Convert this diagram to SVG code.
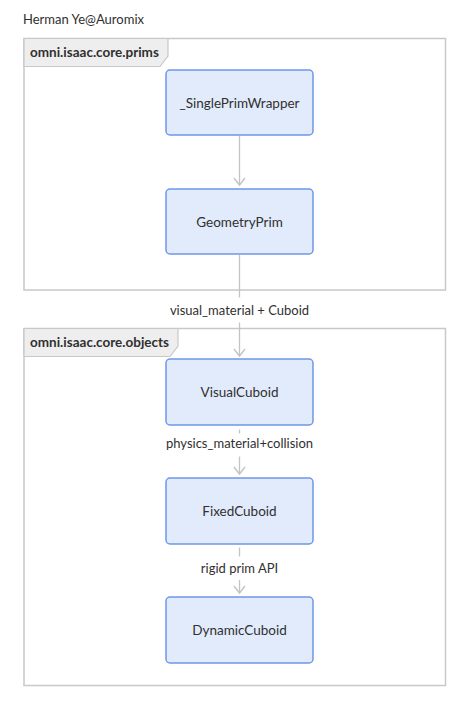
<svg xmlns="http://www.w3.org/2000/svg" width="474" height="708" viewBox="0 0 474 708">
<defs>
<style>
text{font-family:Lato,"Open Sans","Liberation Sans",sans-serif;fill:#303030;}
.t{font-size:13px;}
.pk{fill:none;stroke:#C8C8C8;stroke-width:1.5;}
.tab{fill:#EEEEEE;stroke:#C8C8C8;stroke-width:1.2;}
.tl{font-size:13.5px;font-weight:bold;}
.nd{fill:#E2EBFC;stroke:#6E97E8;stroke-width:1.5;}
.nt{font-size:13.5px;text-anchor:middle;}
.el{font-size:13px;text-anchor:middle;}
.ln{fill:none;stroke:#C4C4C4;stroke-width:1.3;}
</style>
<marker id="ah" viewBox="0 0 10 14" refX="8.5" refY="7" markerWidth="10" markerHeight="14" markerUnits="userSpaceOnUse" orient="auto">
<path d="M1.5,1.5 L8.5,7 L1.5,12.5" fill="none" stroke="#C4C4C4" stroke-width="1.4"/>
</marker>
</defs>
<rect width="474" height="708" fill="#FFFFFF"/>
<text class="t" x="23" y="24">Herman Ye@Auromix</text>
<g id="pkg-prims">
<rect class="pk" x="24" y="38.5" width="421.5" height="251.5"/>
<path class="tab" d="M24,38.5 H168 V56 L160,66.5 H24 Z"/>
<text class="tl" x="30" y="57">omni.isaac.core.prims</text>
</g>
<g id="pkg-objects">
<rect class="pk" x="24" y="328.5" width="421.5" height="357"/>
<path class="tab" d="M24,328.5 H178 V346 L170,356.5 H24 Z"/>
<text class="tl" x="30" y="347">omni.isaac.core.objects</text>
</g>
<g id="connectors">
<path class="ln" d="M239.5,135.5 V185" marker-end="url(#ah)"/>
<path class="ln" d="M239.5,255 V297.5"/>
<path class="ln" d="M239.5,322.5 V356" marker-end="url(#ah)"/>
<text class="el" x="239.5" y="315">visual_material + Cuboid</text>
<path class="ln" d="M239.5,429.5 V433.5"/>
<path class="ln" d="M239.5,456.5 V474" marker-end="url(#ah)"/>
<text class="el" x="239.5" y="448">physics_material+collision</text>
<path class="ln" d="M239.5,547.5 V556.5"/>
<path class="ln" d="M239.5,580 V593" marker-end="url(#ah)"/>
<text class="el" x="239.5" y="573">rigid prim API</text>
</g>
<g id="n-single">
<rect class="nd" x="166" y="70" width="147" height="65" rx="4"/>
<text class="nt" x="239.5" y="107.5">_SinglePrimWrapper</text>
</g>
<g id="n-geom">
<rect class="nd" x="166" y="189" width="147" height="65" rx="4"/>
<text class="nt" x="239.5" y="226.5">GeometryPrim</text>
</g>
<g id="n-visual">
<rect class="nd" x="166" y="359" width="147" height="66" rx="4"/>
<text class="nt" x="239.5" y="396.5">VisualCuboid</text>
</g>
<g id="n-fixed">
<rect class="nd" x="166" y="478" width="147" height="66" rx="4"/>
<text class="nt" x="239.5" y="515.5">FixedCuboid</text>
</g>
<g id="n-dynamic">
<rect class="nd" x="166" y="597" width="147" height="66" rx="4"/>
<text class="nt" x="239.5" y="634.5">DynamicCuboid</text>
</g>
</svg>
